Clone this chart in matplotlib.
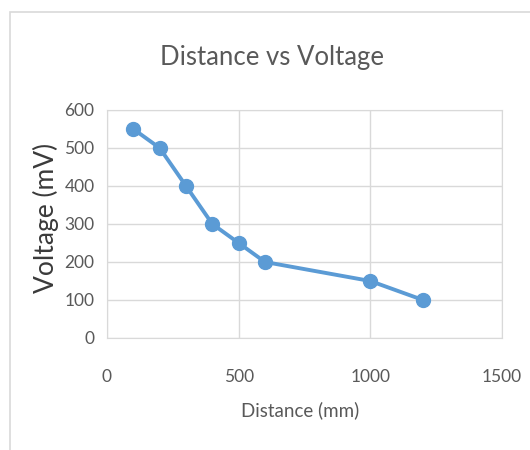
import matplotlib.pyplot as plt
from matplotlib.patches import Rectangle

distance_mm = [100, 200, 300, 400, 500, 600, 1000, 1200]
voltage_mv = [550, 500, 400, 300, 250, 200, 150, 100]
x_ticks = [0, 500, 1000, 1500]
y_ticks = [0, 100, 200, 300, 400, 500, 600]

plt.rcParams['font.family'] = ['Lato', 'DejaVu Sans']

W, H = 530, 450
fig = plt.figure(figsize=(W / 100, H / 100), dpi=100)

# outer chart frame (Excel style), runs off the right/bottom edges
fig.patches.append(Rectangle((10 / W, -0.1), 1.2, 1 - 12 / H + 0.1,
                             transform=fig.transFigure, fill=False,
                             edgecolor='#d9d9d9', linewidth=1.2))

ax = fig.add_axes([107 / W, 1 - 338 / H, (502 - 107) / W, (338 - 110) / H])
ax.plot(distance_mm, voltage_mv, color='#5b9bd5', linewidth=2.8,
        marker='o', markersize=10, zorder=3)

ax.set_xlim(0, 1500)
ax.set_ylim(0, 600)
ax.set_xticks(x_ticks)
ax.set_yticks(y_ticks)
ax.grid(True, color='#d9d9d9', linewidth=1)
for s in ax.spines.values():
    s.set_color('#d9d9d9')
ax.tick_params(length=0, labelsize=12.5, colors='#595959', pad=9)
ax.tick_params(axis='x', pad=22)

fig.text(272 / W, 1 - 58 / H, 'Distance vs Voltage', ha='center', va='center',
         fontsize=18.5, color='#595959')
fig.text(300 / W, 1 - 410 / H, 'Distance (mm)', ha='center', va='center',
         fontsize=13.5, color='#595959')
fig.text(46 / W, 1 - 218 / H, 'Voltage (mV)', ha='center', va='center',
         rotation=90, fontsize=19, color='#3a3a3a')

fig.savefig('out.png', dpi=100)
